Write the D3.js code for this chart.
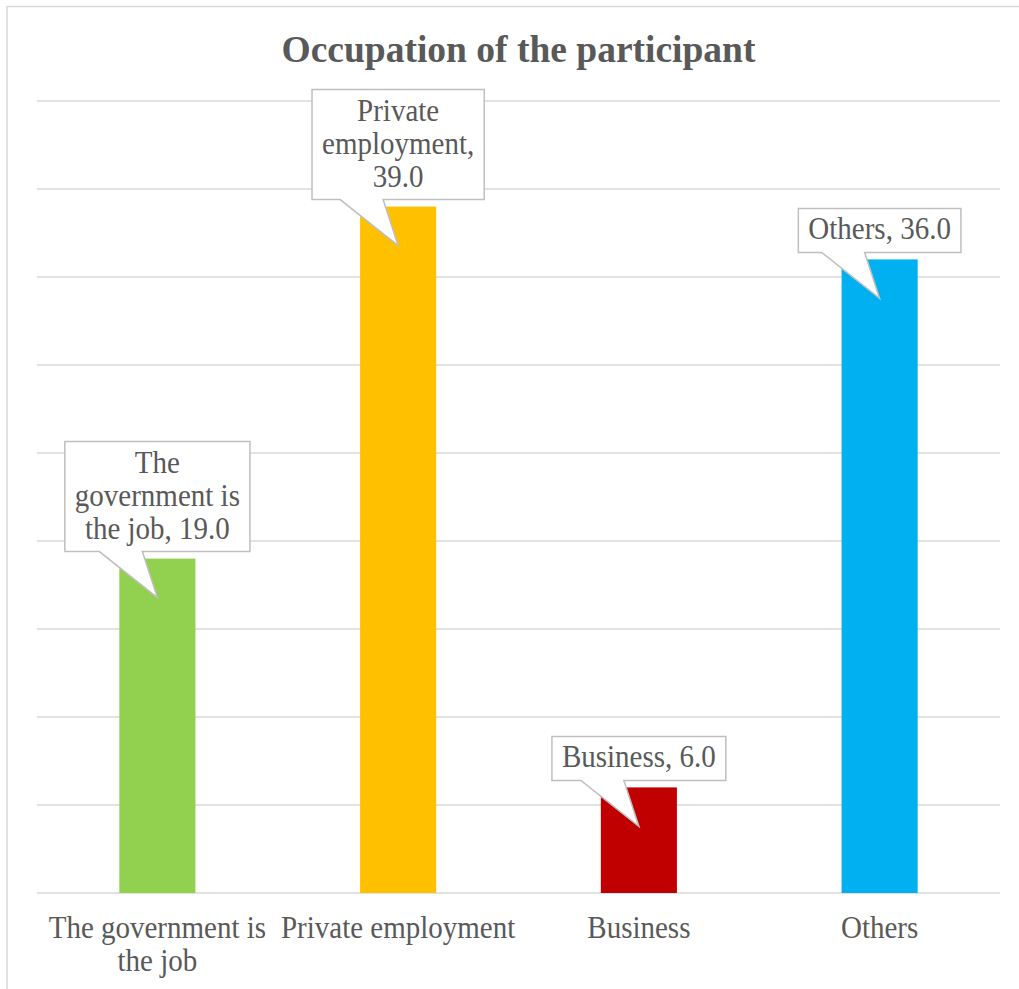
<!DOCTYPE html>
<html>
<head>
<meta charset="utf-8">
<script src="https://cdn.jsdelivr.net/npm/d3@7"></script>
<style>
  html, body { margin: 0; padding: 0; background: #fff; }
  svg { display: block; }
  text { font-family: "Liberation Serif", "Times New Roman", serif; fill: #595959; }
</style>
</head>
<body>
<svg id="chart" width="1019" height="989"></svg>
<script>
// Occupation categories and their shares
const categories = ["The government is the job", "Private employment", "Business", "Others"];
const values = [19.0, 39.0, 6.0, 36.0];
const barColors = ["#92d050", "#ffc000", "#c00000", "#00b0f0"];
const yTicks = [0, 5, 10, 15, 20, 25, 30, 35, 40, 45];
const chartTitle = "Occupation of the participant";

const W = 1019, H = 989;
const plot = { left: 37, right: 1000, top: 101, bottom: 893 };
const fontSize = 29;
const lineH = 33;
const stretchY = 1.09;

const svg = d3.select("#chart");

// outer chart frame
svg.append("rect")
  .attr("x", 7).attr("y", 6.5)
  .attr("width", W + 10).attr("height", H + 10)
  .attr("fill", "none").attr("stroke", "#d9d9d9").attr("stroke-width", 1.5);

const x = d3.scaleBand().domain(categories).range([plot.left, plot.right]).paddingInner(0.684).paddingOuter(0.342);
const y = d3.scaleLinear().domain([0, 45]).range([plot.bottom, plot.top]);

// horizontal gridlines
svg.append("g").selectAll("line").data(yTicks).join("line")
  .attr("x1", plot.left).attr("x2", plot.right)
  .attr("y1", d => y(d)).attr("y2", d => y(d))
  .attr("stroke", "#d9d9d9").attr("stroke-width", 1.5);

// title
svg.append("text")
  .attr("x", (plot.left + plot.right) / 2).attr("y", 62)
  .attr("text-anchor", "middle")
  .style("font-size", "37.5px").style("font-weight", "bold")
  .text(chartTitle);

// bars
svg.append("g").selectAll("rect").data(categories).join("rect")
  .attr("x", d => x(d))
  .attr("y", (d, i) => y(values[i]))
  .attr("width", x.bandwidth())
  .attr("height", (d, i) => y(0) - y(values[i]))
  .attr("fill", (d, i) => barColors[i]);

// measure helper for greedy word wrapping
const probe = svg.append("text").style("font-size", fontSize + "px").attr("visibility", "hidden");
function wrap(str, maxW) {
  const words = str.split(" ");
  const lines = [];
  let cur = "";
  for (const w of words) {
    const test = cur ? cur + " " + w : w;
    probe.text(test);
    if (cur && probe.node().getComputedTextLength() > maxW) {
      lines.push(cur);
      cur = w;
    } else cur = test;
  }
  if (cur) lines.push(cur);
  return lines;
}
function width(str) { probe.text(str); return probe.node().getComputedTextLength(); }

// multi-line centred text, slightly tall glyphs
function multiline(parent, lines, cx, baseline) {
  const t = parent.append("text")
    .attr("text-anchor", "middle")
    .attr("transform", `translate(${cx},${baseline}) scale(1,${stretchY})`)
    .style("font-size", fontSize + "px");
  lines.forEach((ln, k) => {
    t.append("tspan").attr("x", 0).attr("y", k * lineH / stretchY).text(ln);
  });
  return t;
}

// category axis labels
const xAxis = svg.append("g");
categories.forEach(c => {
  multiline(xAxis, wrap(c, 235), x(c) + x.bandwidth() / 2, 938);
});

// value callouts
const callouts = svg.append("g");
categories.forEach((c, i) => {
  const label = c + ", " + values[i].toFixed(1);
  const lines = wrap(label, 172);
  const cx = x(c) + x.bandwidth() / 2;
  const tipY = y(values[i]) + 39;
  const boxBottom = tipY - 46;
  const boxH = lines.length * lineH + 11;
  const boxTop = boxBottom - boxH;
  const boxW = d3.max(lines, width) + 20;
  const l = cx - boxW / 2, r = cx + boxW / 2;
  const path = d3.path();
  path.moveTo(l, boxTop);
  path.lineTo(r, boxTop);
  path.lineTo(r, boxBottom);
  path.lineTo(cx - 15, boxBottom);
  path.lineTo(cx, tipY);
  path.lineTo(cx - 58, boxBottom);
  path.lineTo(l, boxBottom);
  path.closePath();
  callouts.append("path")
    .attr("d", path.toString())
    .attr("fill", "#fff").attr("stroke", "#bfbfbf").attr("stroke-width", 1.5)
    .attr("stroke-linejoin", "miter");
  multiline(callouts, lines, cx, boxTop + 31);
});
probe.remove();
</script>
</body>
</html>
